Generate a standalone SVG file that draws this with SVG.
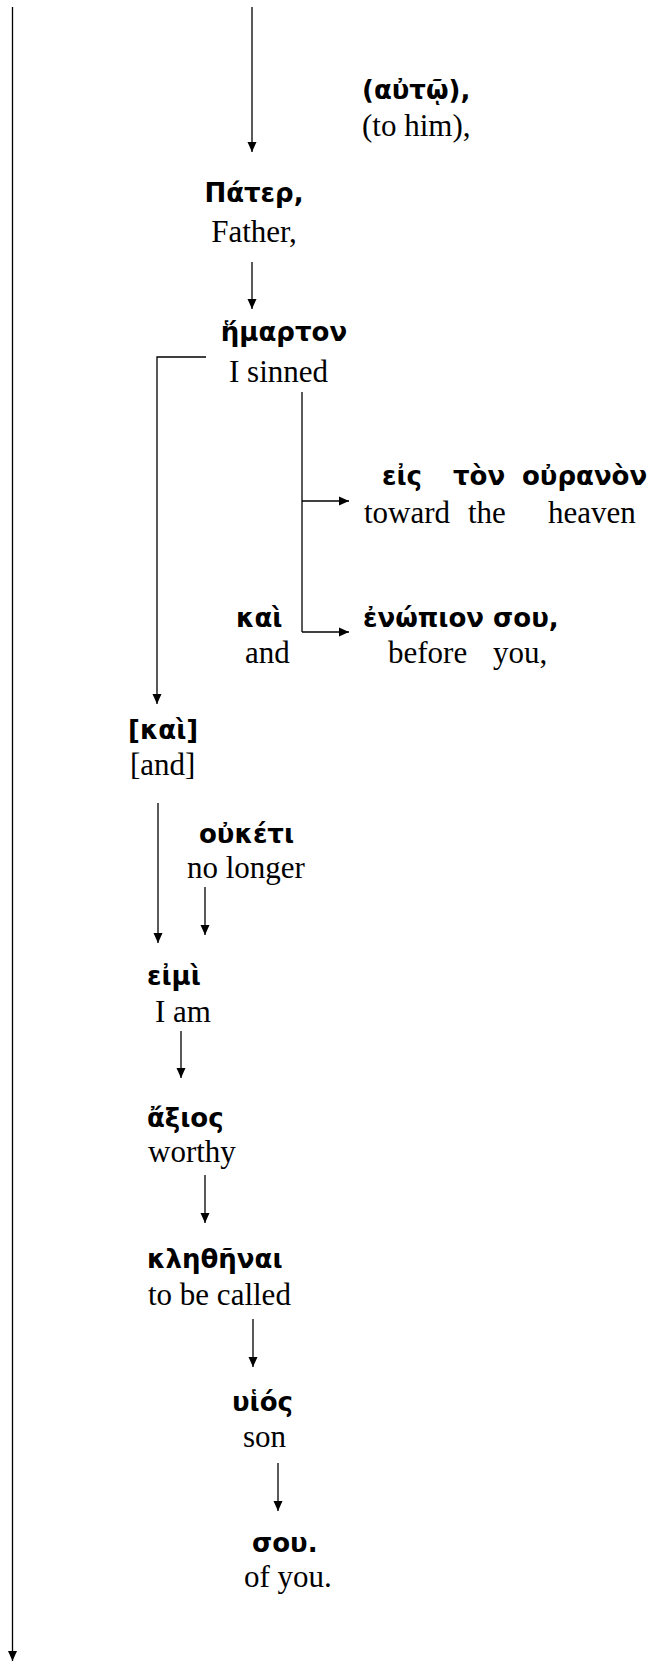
<svg xmlns="http://www.w3.org/2000/svg" width="658" height="1661" viewBox="0 0 658 1661">
<style>
.gk{font-family:"DejaVu Sans","Noto Sans",sans-serif;font-weight:bold;font-size:26px;fill:#000}
.en{font-family:"Liberation Serif","Times New Roman",serif;font-size:31px;fill:#000}
.ln{stroke:#000;stroke-width:1.3;fill:none}
.ar{marker-end:url(#ah)}
</style>
<defs>
<marker id="ah" markerUnits="userSpaceOnUse" markerWidth="11" markerHeight="10" refX="10" refY="5" orient="auto">
<path d="M0,0.5 L10,5 L0,9.5 z" fill="#000"/>
</marker>
</defs>
<rect width="658" height="1661" fill="#fff"/>
<g id="connectors">
<line class="ln ar" x1="12.5" y1="7" x2="12.5" y2="1661"/>
<line class="ln ar" x1="252" y1="7" x2="252" y2="152"/>
<line class="ln ar" x1="252" y1="262" x2="252" y2="309"/>
<polyline class="ln ar" points="206,357 157,357 157,704"/>
<line class="ln" x1="302" y1="392" x2="302" y2="632"/>
<line class="ln ar" x1="302" y1="501" x2="349" y2="501"/>
<line class="ln ar" x1="302" y1="632" x2="349" y2="632"/>
<line class="ln ar" x1="158" y1="803" x2="158" y2="943"/>
<line class="ln ar" x1="205" y1="887" x2="205" y2="935"/>
<line class="ln ar" x1="181" y1="1031" x2="181" y2="1078"/>
<line class="ln ar" x1="205" y1="1175" x2="205" y2="1223"/>
<line class="ln ar" x1="253" y1="1319" x2="253" y2="1367"/>
<line class="ln ar" x1="278" y1="1463" x2="278" y2="1511"/>
</g>
<g id="n-auto">
<text class="gk" x="362" y="99">(αὐτῷ),</text>
<text class="en" x="362" y="136">(to him),</text>
</g>
<g id="n-pater">
<text class="gk" x="254" y="202" text-anchor="middle">Πάτερ,</text>
<text class="en" x="254" y="242" text-anchor="middle">Father,</text>
</g>
<g id="n-hmarton">
<text class="gk" x="284" y="341" text-anchor="middle">ἥμαρτον</text>
<text class="en" x="229" y="382">I sinned</text>
</g>
<g id="n-eis">
<text class="gk" y="485"><tspan x="382">εἰς</tspan><tspan x="453">τὸν</tspan><tspan x="522">οὐρανὸν</tspan></text>
<text class="en" y="523"><tspan x="364">toward</tspan><tspan x="468">the</tspan><tspan x="548">heaven</tspan></text>
</g>
<g id="n-kai1">
<text class="gk" x="236" y="627">καὶ</text>
<text class="en" x="245" y="663">and</text>
</g>
<g id="n-enopion">
<text class="gk" x="363" y="627">ἐνώπιον σου,</text>
<text class="en" y="663"><tspan x="388">before</tspan><tspan x="493">you,</tspan></text>
</g>
<g id="n-kai2">
<text class="gk" x="128" y="739">[καὶ]</text>
<text class="en" x="130" y="775">[and]</text>
</g>
<g id="n-ouketi">
<text class="gk" x="199" y="843">οὐκέτι</text>
<text class="en" x="187" y="878">no longer</text>
</g>
<g id="n-eimi">
<text class="gk" x="147" y="985">εἰμὶ</text>
<text class="en" x="155" y="1022">I am</text>
</g>
<g id="n-axios">
<text class="gk" x="147" y="1127">ἄξιος</text>
<text class="en" x="148" y="1162">worthy</text>
</g>
<g id="n-klethenai">
<text class="gk" x="147" y="1268">κληθῆναι</text>
<text class="en" x="148" y="1305">to be called</text>
</g>
<g id="n-huios">
<text class="gk" x="232" y="1411">υἱός</text>
<text class="en" x="243" y="1447">son</text>
</g>
<g id="n-sou">
<text class="gk" x="252" y="1552">σου.</text>
<text class="en" x="244" y="1587">of you.</text>
</g>
</svg>
